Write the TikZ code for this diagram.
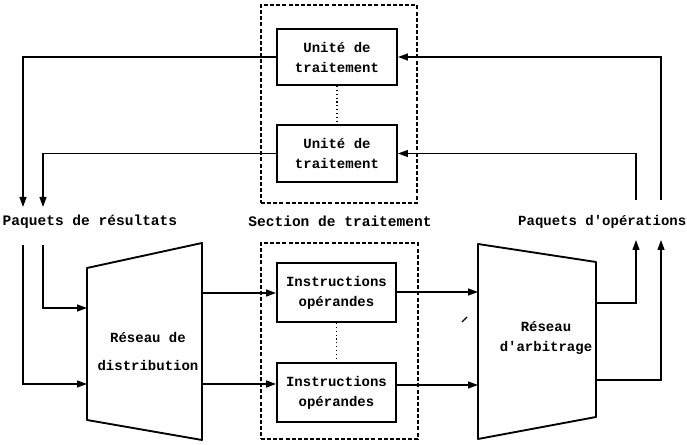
\documentclass[tikz,border=0pt]{standalone}
\usepackage{fontspec}
\newfontfamily\monof{Liberation Mono}
\usetikzlibrary{arrows.meta}
\begin{document}
\begin{tikzpicture}[x=0.75pt,y=-0.75pt,line width=1.1pt,
  txt/.style={font=\monof\bfseries\fontsize{10.9}{15}\selectfont, align=center, inner sep=0pt},
  procbox/.style={draw, line width=1.4pt, inner sep=0pt, font=\monof\bfseries\fontsize{10.5}{15}\selectfont, align=center},
  secbox/.style={draw, dashed, dash pattern=on 3pt off 1.6pt, line width=1.1pt, inner sep=0pt},
  trap/.style={draw, line width=1.4pt, line join=round},
  arr/.style={-{Triangle[length=7.5pt,width=5.2pt]}},
  dots/.style={dotted, line width=0.9pt}]
\useasboundingbox (0,0) rectangle (687,445);

% sections (dashed)
\node[secbox, minimum width=117pt, minimum height=148.5pt] (sec1) at (339,104) {};
\node[secbox, minimum width=117.75pt, minimum height=147pt] (sec2) at (339.5,341) {};

% processing units
\node[procbox, minimum width=90pt, minimum height=42pt] (u1) at (337,57) {Unité de\\traitement};
\node[procbox, minimum width=90pt, minimum height=42.75pt] (u2) at (337,153.5) {Unité de\\traitement};
\draw[dots] (u1.south) -- (u2.north);

% instruction boxes
\node[procbox, minimum width=89.25pt, minimum height=44.25pt] (i1) at (336.5,292.5) {Instructions\\opérandes};
\node[procbox, minimum width=89.25pt, minimum height=44.25pt] (i2) at (336.5,392.5) {Instructions\\opérandes};
\draw[dots] (i1.south) -- (i2.north);

% distribution network
\coordinate (dtl) at (87,268); \coordinate (dtr) at (202,243);
\coordinate (dbr) at (202,440); \coordinate (dbl) at (87,420);
\draw[trap] (dtl) -- (dtr) -- (dbr) -- (dbl) -- cycle;
\node[txt, font=\monof\bfseries\fontsize{10.5}{21}\selectfont] (dtxt) at (148,351) {Réseau de\\distribution};

% arbitration network
\coordinate (atl) at (478,244); \coordinate (atr) at (596,262);
\coordinate (abr) at (596,417); \coordinate (abl) at (478,439);
\draw[trap] (atl) -- (atr) -- (abr) -- (abl) -- cycle;
\node[txt, font=\monof\bfseries\fontsize{10.5}{15}\selectfont] (atxt) at (546,338) {Réseau\\d'arbitrage};

% labels
\node[txt, anchor=west] (lres) at (2,222) {Paquets de résultats};
\node[txt] (lsec) at (340,221) {Section de traitement};
\node[txt, anchor=east, font=\monof\bfseries\fontsize{10.5}{15}\selectfont] (lop) at (687,222) {Paquets d'opérations};

% connection points
\coordinate (din1) at (87,308); \coordinate (din2) at (87,384);
\coordinate (dout1) at (202,293); \coordinate (dout2) at (202,384);
\coordinate (ain1) at (478,292); \coordinate (ain2) at (478,385);
\coordinate (aout1) at (596,303); \coordinate (aout2) at (596,380);
\coordinate (r1) at (23,207); \coordinate (r2) at (43,207);
\coordinate (r1b) at (23,245); \coordinate (r2b) at (43,245);
\coordinate (p1) at (636,240); \coordinate (p2) at (661,240);
\coordinate (p1t) at (636,200); \coordinate (p2t) at (661,200);

% left: results packets
\draw[arr] (u1.west) -| (r1);
\draw[arr] (u2.west) -| (r2);
\draw[arr] (r1b) |- (din2);
\draw[arr] (r2b) |- (din1);

% distribution -> instructions
\draw[arr] (dout1) -- (dout1 -| i1.west);
\draw[arr] (dout2) -- (dout2 -| i2.west);

% instructions -> arbitration
\draw[arr] (ain1 -| i1.east) -- (ain1);
\draw[arr] (ain2 -| i2.east) -- (ain2);

% arbitration -> operation packets
\draw[arr] (aout1) -| (p1);
\draw[arr] (aout2) -| (p2);

% operation packets -> processing units
\draw[arr] (p1t) |- (u2.east);
\draw[arr] (p2t) |- (u1.east);

% stray mark
\draw[line width=0.8pt] (462,322) -- (467,317);
\end{tikzpicture}
\end{document}
